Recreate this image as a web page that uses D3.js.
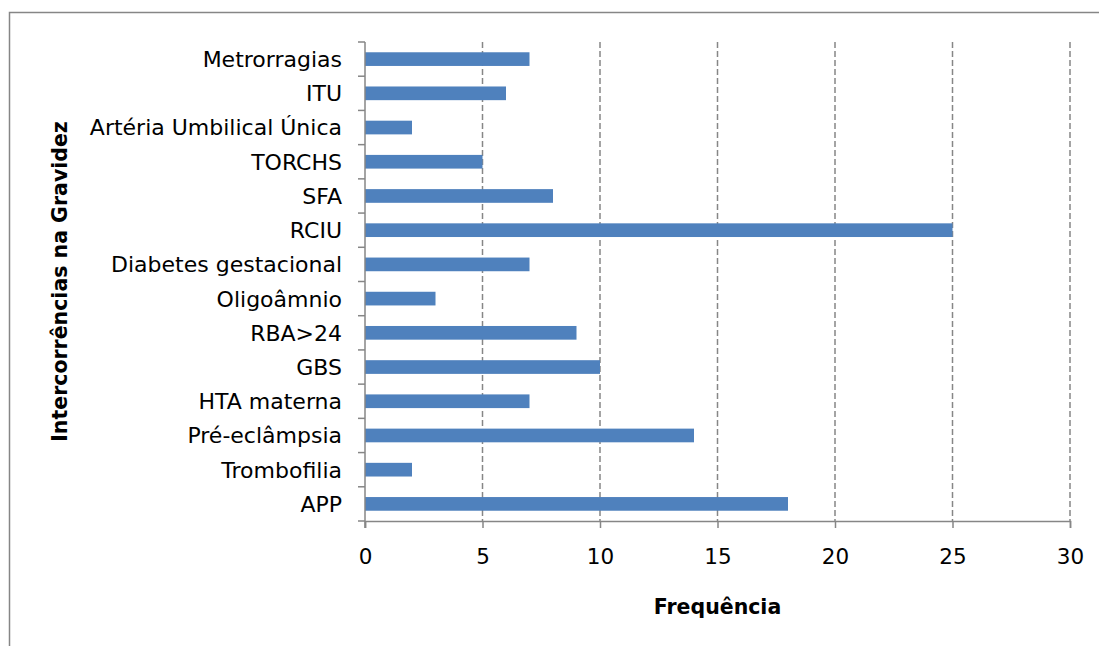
<!DOCTYPE html>
<html>
<head>
<meta charset="utf-8">
<script src="https://cdn.jsdelivr.net/npm/d3@7"></script>
<style>
  html, body { margin: 0; padding: 0; background: #fff; }
  svg { display: block; }
  text { font-family: "DejaVu Sans", sans-serif; fill: #000; }
</style>
</head>
<body>
<svg id="chart" width="1099" height="646"></svg>
<script>
// Pregnancy complications (bottom to top as drawn) and their frequencies
const categories = [
  "APP", "Trombofilia", "Pré-eclâmpsia", "HTA materna", "GBS", "RBA>24",
  "Oligoâmnio", "Diabetes gestacional", "RCIU", "SFA", "TORCHS",
  "Artéria Umbilical Única", "ITU", "Metrorragias"
];
const frequencies = [18, 2, 14, 7, 10, 9, 3, 7, 25, 8, 5, 2, 6, 7];
const xTicks = [0, 5, 10, 15, 20, 25, 30];
const xTitle = "Frequência";
const yTitle = "Intercorrências na Gravidez";

const svg = d3.select("#chart");
const plot = { left: 365, right: 1070, top: 42, bottom: 521 };
const axisGray = "#868686";

// outer frame
svg.append("rect")
  .attr("x", 9.5).attr("y", 12.5)
  .attr("width", 1200).attr("height", 800)
  .attr("fill", "none").attr("stroke", axisGray).attr("stroke-width", 1.5);

const x = d3.scaleLinear().domain([0, 30]).range([plot.left, plot.right]);
const y = d3.scaleBand()
  .domain(categories.slice().reverse())
  .range([plot.top, plot.bottom])
  .paddingInner(0.6).paddingOuter(0.3);

// dashed vertical gridlines
svg.append("g").selectAll("line")
  .data(xTicks.filter(t => t > 0))
  .join("line")
  .attr("x1", d => x(d)).attr("x2", d => x(d))
  .attr("y1", plot.top).attr("y2", plot.bottom)
  .attr("stroke", axisGray).attr("stroke-width", 1.5)
  .attr("stroke-dasharray", "6,3");

// bars
svg.append("g").selectAll("rect")
  .data(categories.map((c, i) => ({ c, v: frequencies[i] })))
  .join("rect")
  .attr("x", x(0))
  .attr("y", d => y(d.c))
  .attr("width", d => x(d.v) - x(0))
  .attr("height", y.bandwidth())
  .attr("fill", "#4F81BD");

// x axis
const xAxis = svg.append("g")
  .attr("transform", `translate(0,${plot.bottom})`)
  .call(d3.axisBottom(x).tickValues(xTicks).tickSize(7).tickPadding(21).tickFormat(d3.format("d")));
xAxis.select(".domain").attr("stroke", axisGray).attr("stroke-width", 1.5);
xAxis.selectAll(".tick line").attr("stroke", axisGray).attr("stroke-width", 1.5);
xAxis.selectAll(".tick text").attr("font-size", 21.5).attr("font-family", null);

// y axis: ticks at band boundaries, labels centred in bands
const boundaries = d3.range(categories.length + 1).map(i => plot.top + i * (plot.bottom - plot.top) / categories.length);
const yAxis = svg.append("g");
yAxis.append("line")
  .attr("x1", plot.left).attr("x2", plot.left)
  .attr("y1", plot.top).attr("y2", plot.bottom + 7)
  .attr("stroke", axisGray).attr("stroke-width", 1.5);
yAxis.selectAll("line.tk")
  .data(boundaries)
  .join("line").attr("class", "tk")
  .attr("x1", plot.left - 7).attr("x2", plot.left)
  .attr("y1", d => d).attr("y2", d => d)
  .attr("stroke", axisGray).attr("stroke-width", 1.5);
yAxis.selectAll("text")
  .data(categories)
  .join("text")
  .attr("x", 342)
  .attr("y", d => y(d) + y.bandwidth() / 2)
  .attr("dy", "0.36em")
  .attr("text-anchor", "end")
  .attr("font-size", 22)
  .text(d => d);

// axis titles
svg.append("text")
  .attr("x", (plot.left + plot.right) / 2).attr("y", 614)
  .attr("text-anchor", "middle")
  .attr("font-size", 20.5).attr("font-weight", "bold")
  .text(xTitle);

svg.append("text")
  .attr("transform", `translate(67,${(plot.top + plot.bottom) / 2}) rotate(-90)`)
  .attr("text-anchor", "middle")
  .attr("font-size", 20.5).attr("font-weight", "bold")
  .text(yTitle);
</script>
</body>
</html>
